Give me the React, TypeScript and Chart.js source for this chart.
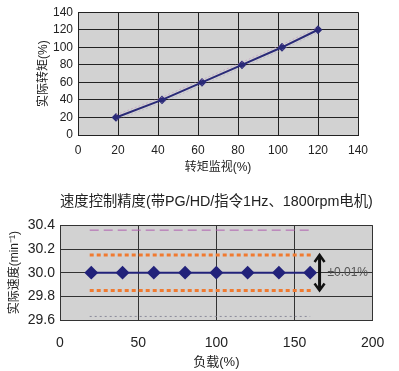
import React, { useEffect, useRef } from "react";
import { Chart, registerables } from "chart.js";

Chart.register(...registerables);

const FONT = 'Liberation Sans, "Noto Sans CJK SC", sans-serif';

// Top chart data
const torqueMonitor = [19, 42, 62, 82, 102, 120];
const actualTorque = [20, 40, 60, 80, 100, 120];
const bandUpper = [23, 43, 63, 83, 103, 123];
const bandLower = [17, 37, 57, 77, 97, 117];

// Bottom chart data
const loadPct = [20, 40, 60, 80, 100, 120, 140, 160];
const actualSpeed = [30.0, 30.0, 30.0, 30.0, 30.0, 30.0, 30.0, 30.0];
const orangeX = [19, 162];
const orangeUpper = [30.15, 30.15];
const orangeLower = [29.85, 29.85];
const purpleX = [19, 160];
const purpleTop = [30.36, 30.36];
const grayX = [19, 160];
const grayBottom = [29.63, 29.63];
const arrowX = 166;
const arrowTop = 30.15;
const arrowBottom = 29.85;
const arrowLabel = "±0.01%";
const arrowLabelX = 171;
const arrowLabelY = 30.0;

const bottomTitle = "速度控制精度(带PG/HD/指令1Hz、1800rpm电机)";

const bgPlugin = {
  id: "plotBg",
  beforeDraw(chart: any) {
    const { ctx, chartArea } = chart;
    ctx.save();
    ctx.fillStyle = "#d2d2d2";
    ctx.fillRect(chartArea.left, chartArea.top, chartArea.right - chartArea.left, chartArea.bottom - chartArea.top);
    ctx.restore();
  },
};

const pts = (xs: number[], ys: number[]) => xs.map((x, i) => ({ x, y: ys[i] }));

function TopChart() {
  const ref = useRef<HTMLCanvasElement>(null);
  useEffect(() => {
    const chart = new Chart(ref.current!, {
      type: "line",
      data: {
        datasets: [
          {
            data: pts(torqueMonitor, bandUpper),
            borderColor: "rgba(190,140,190,0.55)",
            borderWidth: 1,
            borderDash: [2, 2],
            pointRadius: 0,
          },
          {
            data: pts(torqueMonitor, bandLower),
            borderColor: "rgba(160,150,190,0.4)",
            borderWidth: 1,
            borderDash: [2, 2],
            pointRadius: 0,
          },
          {
            data: pts(torqueMonitor, actualTorque),
            borderColor: "#2a2a78",
            backgroundColor: "#2a2a78",
            borderWidth: 2,
            pointRadius: 3,
            pointStyle: "rectRot",
          },
        ],
      },
      options: {
        responsive: false,
        animation: false,
        layout: { padding: { top: 5, right: 41, left: 0, bottom: 0 } },
        plugins: { legend: { display: false }, tooltip: { enabled: false } },
        scales: {
          x: {
            type: "linear",
            min: 0,
            max: 140,
            afterFit: (s: any) => { s.height = 45; },
            ticks: { stepSize: 20, padding: 8.5, color: "#222", font: { family: FONT, size: 12 } },
            grid: { color: "#222", drawTicks: false },
            border: { color: "#222" },
            title: { display: true, text: "转矩监视(%)", color: "#222", font: { family: FONT, size: 12 }, padding: { bottom: 4.8, top: 0 } },
          },
          y: {
            type: "linear",
            min: 0,
            max: 140,
            afterFit: (s: any) => { s.width = 78; },
            ticks: { stepSize: 20, padding: 5, color: "#222", font: { family: FONT, size: 12 } },
            grid: { color: "#222", drawTicks: false },
            border: { color: "#222" },
            title: { display: true, text: "实际转矩(%)", color: "#222", font: { family: FONT, size: 12 }, padding: { top: 36, bottom: 0 } },
          },
        },
      },
      plugins: [bgPlugin],
    } as any);
    return () => chart.destroy();
  }, []);
  return <canvas ref={ref} width={399} height={180} style={{ position: "absolute", left: 0, top: 0 }} />;
}

const arrowPlugin = {
  id: "arrow",
  afterDatasetsDraw(chart: any) {
    const { ctx, scales } = chart;
    const x = scales.x.getPixelForValue(arrowX);
    const yt = scales.y.getPixelForValue(arrowTop);
    const yb = scales.y.getPixelForValue(arrowBottom);
    ctx.save();
    ctx.strokeStyle = "#111";
    ctx.lineWidth = 3;
    ctx.beginPath();
    ctx.moveTo(x, yt + 2);
    ctx.lineTo(x, yb - 2);
    ctx.stroke();
    ctx.lineWidth = 2.5;
    ctx.beginPath();
    ctx.moveTo(x - 5, yt + 7);
    ctx.lineTo(x, yt);
    ctx.lineTo(x + 5, yt + 7);
    ctx.moveTo(x - 5, yb - 7);
    ctx.lineTo(x, yb);
    ctx.lineTo(x + 5, yb - 7);
    ctx.stroke();
    ctx.fillStyle = "#555";
    ctx.font = `12px ${FONT}`;
    ctx.textAlign = "left";
    ctx.textBaseline = "middle";
    ctx.fillText(arrowLabel, scales.x.getPixelForValue(arrowLabelX), scales.y.getPixelForValue(arrowLabelY));
    ctx.restore();
  },
};

function BottomChart() {
  const ref = useRef<HTMLCanvasElement>(null);
  useEffect(() => {
    const chart = new Chart(ref.current!, {
      type: "line",
      data: {
        datasets: [
          {
            data: pts(purpleX, purpleTop),
            borderColor: "#b060b0",
            borderWidth: 1,
            borderDash: [9, 5],
            pointRadius: 0,
          },
          {
            data: pts(grayX, grayBottom),
            borderColor: "#8a8a9a",
            borderWidth: 1,
            borderDash: [2, 3],
            pointRadius: 0,
          },
          {
            data: pts(orangeX, orangeUpper),
            borderColor: "#f07a30",
            borderWidth: 3,
            borderDash: [4, 3],
            pointRadius: 0,
          },
          {
            data: pts(orangeX, orangeLower),
            borderColor: "#f07a30",
            borderWidth: 3,
            borderDash: [4, 3],
            pointRadius: 0,
          },
          {
            data: pts(loadPct, actualSpeed),
            borderColor: "#22227a",
            backgroundColor: "#22227a",
            borderWidth: 2,
            pointRadius: 5.5,
            pointStyle: "rectRot",
          },
        ],
      },
      options: {
        responsive: false,
        animation: false,
        layout: { padding: { top: 0, right: 24, left: 0, bottom: 0 } },
        plugins: {
          legend: { display: false },
          tooltip: { enabled: false },
          title: {
            display: true,
            fullSize: false,
            text: bottomTitle,
            color: "#222",
            font: { family: FONT, size: 14.5, weight: "normal" },
            padding: { top: 13, bottom: 15 },
          },
        },
        scales: {
          x: {
            type: "linear",
            min: 0,
            max: 200,
            afterFit: (s: any) => { s.height = 51; },
            ticks: { stepSize: 50, padding: 14.6, color: "#222", font: { family: FONT, size: 14 } },
            grid: { color: "#333", drawTicks: false },
            border: { color: "#333" },
            title: { display: true, text: "负载(%)", color: "#222", font: { family: FONT, size: 13 }, padding: { bottom: 1.2, top: 0 } },
          },
          y: {
            type: "linear",
            min: 29.6,
            max: 30.4,
            afterFit: (s: any) => { s.width = 60; },
            ticks: {
              stepSize: 0.2,
              padding: 5,
              color: "#222",
              font: { family: FONT, size: 14 },
              callback: (v: any) => Number(v).toFixed(1),
            },
            grid: { color: "#333", drawTicks: false },
            border: { color: "#333" },
            title: { display: true, text: "实际速度(min⁻¹)", color: "#222", font: { family: FONT, size: 12 }, padding: { top: 7.8, bottom: 0 } },
          },
        },
      },
      plugins: [bgPlugin, arrowPlugin],
    } as any);
    return () => chart.destroy();
  }, []);
  return <canvas ref={ref} width={399} height={191} style={{ position: "absolute", left: 0, top: 180 }} />;
}

export default function App() {
  return (
    <div style={{ position: "fixed", left: 0, top: 0, width: 399, height: 371, background: "#fff", overflow: "hidden" }}>
      <TopChart />
      <BottomChart />
    </div>
  );
}
